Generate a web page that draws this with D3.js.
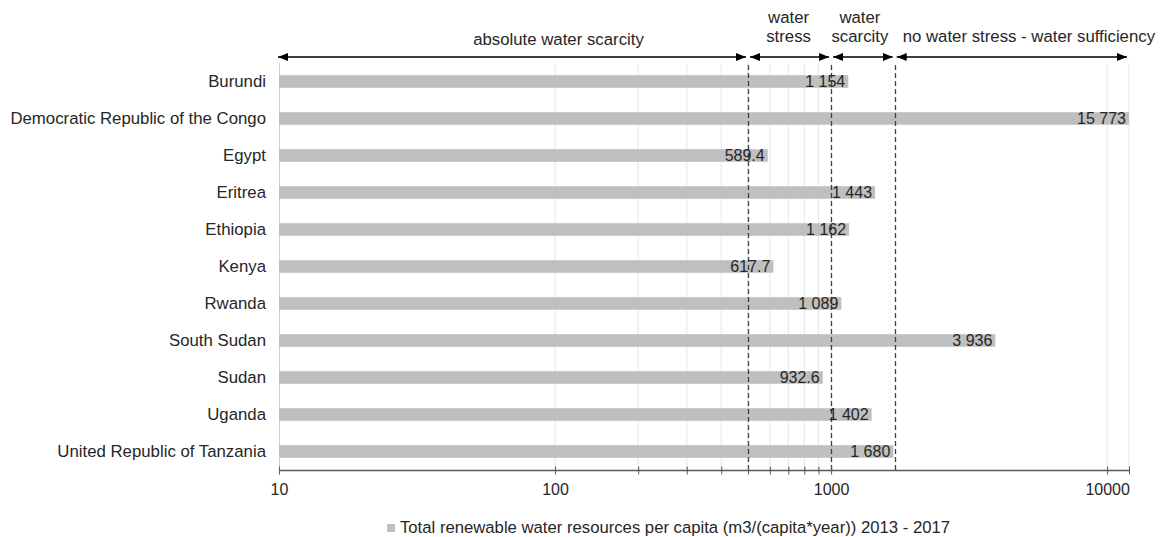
<!DOCTYPE html>
<html>
<head>
<meta charset="utf-8">
<script src="https://cdn.jsdelivr.net/npm/d3@7"></script>
<style>
  body { margin: 0; background: #fff; }
  svg { display: block; font-family: "Liberation Sans", Arial, sans-serif; }
</style>
</head>
<body>
<svg></svg>
<script>
// data
const countries = [
  "Burundi", "Democratic Republic of the Congo", "Egypt", "Eritrea", "Ethiopia",
  "Kenya", "Rwanda", "South Sudan", "Sudan", "Uganda", "United Republic of Tanzania"
];
const waterPerCapita = [1154, 15773, 589.4, 1443, 1162, 617.7, 1089, 3936, 932.6, 1402, 1680];

const zoneLimits = [10, 500, 1000, 1700, 12000];
const zoneLabels = [
  ["absolute water scarcity"],
  ["water", "stress"],
  ["water", "scarcity"],
  ["no water stress - water sufficiency"]
];
const thresholds = [500, 1000, 1700];

const tickValues = [10, 100, 200, 300, 400, 500, 600, 700, 800, 900, 1000, 10000, 12000];
const tickLabels = [10, 100, 1000, 10000];
const gridValues = [100, 200, 300, 400, 500, 600, 700, 800, 900, 1000, 10000, 12000];
const legendLabel = "Total renewable water resources per capita (m3/(capita*year)) 2013 - 2017";

const data = countries.map((c, i) => ({ country: c, value: waterPerCapita[i] }));

const width = 1162, height = 537;
const margin = { top: 63, right: 33, bottom: 67, left: 279 };
const innerW = width - margin.left - margin.right;
const innerH = height - margin.top - margin.bottom;

const svg = d3.select("svg")
  .attr("width", width)
  .attr("height", height);

const x = d3.scaleLog()
  .domain([zoneLimits[0], zoneLimits[zoneLimits.length - 1]])
  .range([0, innerW])
  .clamp(true);
const y = d3.scaleBand()
  .domain(countries)
  .range([0, innerH])
  .paddingInner(0.66)
  .paddingOuter(0.33);

const g = svg.append("g")
  .attr("transform", `translate(${margin.left},${margin.top})`);

// grid
g.append("g").selectAll("line").data(gridValues)
  .enter().append("line")
    .attr("x1", d => x(d)).attr("x2", d => x(d))
    .attr("y1", 0).attr("y2", innerH)
    .attr("stroke", "#e6e6e6")
    .attr("stroke-width", 1);

// left axis line
g.append("line")
  .attr("x1", 0.5).attr("x2", 0.5)
  .attr("y1", 0).attr("y2", innerH)
  .attr("stroke", "#d0d0d0");

// bars
g.append("g").selectAll("rect").data(data)
  .enter().append("rect")
    .attr("x", 0)
    .attr("y", d => y(d.country))
    .attr("width", d => x(d.value))
    .attr("height", y.bandwidth())
    .attr("fill", "#bfbfbf");

// category labels
g.append("g").selectAll("text").data(data)
  .enter().append("text")
    .attr("x", -13)
    .attr("y", d => y(d.country) + y.bandwidth() / 2 + 5)
    .attr("text-anchor", "end")
    .attr("font-size", "16.8px")
    .attr("fill", "#262626")
    .text(d => d.country);

// threshold lines
g.append("g").selectAll("line").data(thresholds)
  .enter().append("line")
    .attr("x1", d => Math.round(x(d)) + 0.5).attr("x2", d => Math.round(x(d)) + 0.5)
    .attr("y1", 2).attr("y2", innerH)
    .attr("stroke", "#404040")
    .attr("stroke-width", 1.3)
    .attr("stroke-dasharray", "5,3");

// value labels
const loc = d3.formatLocale({ decimal: ".", thousands: " ", grouping: [3], currency: ["", ""] });
const fmtBig = loc.format(",.0f"), fmtSmall = d3.format(".1f");
g.append("g").selectAll("text").data(data)
  .enter().append("text")
    .attr("x", d => x(d.value) - 3)
    .attr("y", d => y(d.country) + y.bandwidth() / 2 + 5.5)
    .attr("text-anchor", "end")
    .attr("font-size", "16px")
    .attr("fill", "#262626")
    .text(d => d.value >= 1000 ? fmtBig(d.value) : fmtSmall(d.value));

// x axis
const xAxis = d3.axisBottom(x)
  .tickValues(tickValues)
  .tickSize(4)
  .tickFormat(d => tickLabels.includes(d) ? d : "");
const xAxisG = g.append("g")
  .attr("transform", `translate(0,${innerH + 0.5})`)
  .call(xAxis);
xAxisG.select(".domain").attr("stroke", "#595959").attr("stroke-width", 1.3)
  .attr("d", `M0,0H${innerW}`);
xAxisG.selectAll(".tick line").attr("stroke", "#595959").attr("y1", -4).attr("y2", 4);
xAxisG.selectAll(".tick text")
  .attr("font-family", "\"Liberation Sans\", Arial, sans-serif")
  .attr("font-size", "16px")
  .attr("fill", "#262626")
  .attr("dy", null)
  .attr("y", 24.5);

// zone arrows
const defs = svg.append("defs");
defs.append("marker")
  .attr("id", "arr")
  .attr("viewBox", "0 0 10 8")
  .attr("refX", 10).attr("refY", 4)
  .attr("markerWidth", 10).attr("markerHeight", 8)
  .attr("markerUnits", "userSpaceOnUse")
  .attr("orient", "auto-start-reverse")
  .append("path").attr("d", "M0,0L10,4L0,8Z").attr("fill", "#000");

const zones = zoneLabels.map((lab, i) => ({ lab, from: zoneLimits[i], to: zoneLimits[i + 1] }));
const arrowY = -6;
g.append("g").selectAll("line").data(zones)
  .enter().append("line")
    .attr("x1", d => x(d.from) + (d.from === zoneLimits[0] ? -1 : 2))
    .attr("x2", d => x(d.to) - 2)
    .attr("y1", arrowY).attr("y2", arrowY)
    .attr("stroke", "#000")
    .attr("stroke-width", 1.3)
    .attr("marker-start", "url(#arr)")
    .attr("marker-end", "url(#arr)");

// zone label placement (shift from zone middle, baseline of last line)
const labelShift = [45, -1, -3, 17];
const labelBase = [45, 42, 42, 42];
const zl = svg.append("g").selectAll("text").data(zones)
  .enter().append("text")
    .attr("text-anchor", "middle")
    .attr("font-size", "16.8px")
    .attr("fill", "#262626")
    .attr("x", (d, i) => margin.left + (x(d.from) + x(d.to)) / 2 + labelShift[i])
    .attr("y", (d, i) => labelBase[i] - (d.lab.length - 1) * 19);
zl.selectAll("tspan").data(d => d.lab)
  .enter().append("tspan")
    .attr("x", function () { return d3.select(this.parentNode).attr("x"); })
    .attr("dy", (d, i) => i === 0 ? 0 : 19)
    .text(d => d);

// legend
const legend = svg.append("g").attr("transform", "translate(387,533)");
legend.append("rect")
  .attr("x", 0).attr("y", -9)
  .attr("width", 8).attr("height", 8)
  .attr("fill", "#bfbfbf");
legend.append("text")
  .attr("x", 13).attr("y", 0)
  .attr("font-size", "16.7px")
  .attr("fill", "#262626")
  .text(legendLabel);
</script>
</body>
</html>
